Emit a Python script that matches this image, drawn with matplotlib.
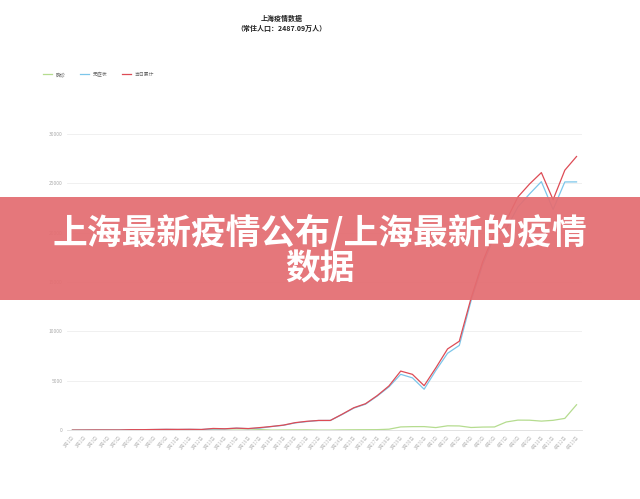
import matplotlib
matplotlib.use("Agg")
import matplotlib.pyplot as plt
from matplotlib.patches import Rectangle

plt.rcParams['font.family'] = ['Noto Sans CJK SC', 'DejaVu Sans']

dates = ["3月1日", "3月2日", "3月3日", "3月4日", "3月5日", "3月6日", "3月7日", "3月8日",
         "3月9日", "3月10日", "3月11日", "3月12日", "3月13日", "3月14日", "3月15日",
         "3月16日", "3月17日", "3月18日", "3月19日", "3月20日", "3月21日", "3月22日",
         "3月23日", "3月24日", "3月25日", "3月26日", "3月27日", "3月28日", "3月29日",
         "3月30日", "3月31日", "4月1日", "4月2日", "4月3日", "4月4日", "4月5日",
         "4月6日", "4月7日", "4月8日", "4月9日", "4月10日", "4月11日", "4月12日", "4月13日"]
confirmed = [1, 0, 2, 3, 0, 3, 3, 3, 4, 11, 5, 1, 41, 9, 5, 8, 57, 8, 17, 24, 31, 4, 4,
             29, 38, 45, 50, 96, 326, 355, 358, 260, 438, 425, 268, 311, 322, 824, 1015,
             1006, 914, 994, 1189, 2573]
asymptomatic = [1, 8, 14, 13, 16, 45, 45, 62, 76, 64, 78, 64, 128, 130, 197, 150, 203,
                366, 492, 734, 865, 977, 979, 1580, 2231, 2631, 3450, 4381, 5656, 5298,
                4144, 6051, 7788, 8581, 13086, 16766, 19660, 20398, 22609, 23937, 25173,
                22348, 25141, 25146]
total = [c + a for c, a in zip(confirmed, asymptomatic)]
yticks = [0, 5000, 10000, 15000, 20000, 25000, 30000]
series_names = ["确诊", "无症状", "当日累计"]

fig = plt.figure(figsize=(6.4, 4.99), dpi=100)
ax = fig.add_axes([0.104, 0.138, 0.806, 0.5935])
x = list(range(len(dates)))
ax.plot(x, confirmed, color="#b5dc8f", lw=0.9, label=series_names[0])
ax.plot(x, asymptomatic, color="#7cc6ea", lw=0.9, label=series_names[1])
ax.plot(x, total, color="#dd4b55", lw=0.9, label=series_names[2])
ax.set_xlim(-0.5, len(dates) - 0.5)
ax.set_ylim(0, 30000)
ax.set_yticks(yticks)
ax.set_yticklabels([str(v) for v in yticks], fontsize=3.5, color="#aaaaaa")
ax.set_xticks(x)
ax.set_xticklabels(dates, rotation=50, fontsize=3.3, color="#bbbbbb", ha="right",
                   rotation_mode="anchor")
ax.tick_params(axis="both", length=0, pad=3)
ax.grid(axis="y", color="#eeeeee", lw=0.6)
for s in ["top", "right", "left"]:
    ax.spines[s].set_visible(False)
ax.spines["bottom"].set_color("#dddddd")
ax.spines["bottom"].set_linewidth(0.6)
ax.set_axisbelow(True)

leg = fig.legend(loc="upper left", bbox_to_anchor=(0.06, 0.865), ncol=3, frameon=False,
                 fontsize=3.5, handlelength=2.0, columnspacing=3.0, handletextpad=0.6)
for t in leg.get_texts():
    t.set_color("#666666")

fig.text(0.44, 0.963, "上海疫情数据", ha="center", va="center", fontsize=5,
         fontweight="bold", color="#222222")
fig.text(0.44, 0.943, "（常住人口：2487.09万人）", ha="center", va="center", fontsize=5,
         fontweight="bold", color="#222222")

fig.patches.append(Rectangle((0, 1 - 300 / 499), 1, 103 / 499, transform=fig.transFigure,
                             facecolor="#e46d71", alpha=0.93, edgecolor="none", zorder=5))
fig.text(0.5, 1 - 232 / 499, "上海最新疫情公布/上海最新的疫情", ha="center", va="center",
         fontsize=25, fontweight="heavy", color="white", zorder=6)
fig.text(0.5, 1 - 269 / 499, "数据", ha="center", va="center",
         fontsize=25, fontweight="heavy", color="white", zorder=6)

fig.savefig("out.png", dpi=100, facecolor="white")
